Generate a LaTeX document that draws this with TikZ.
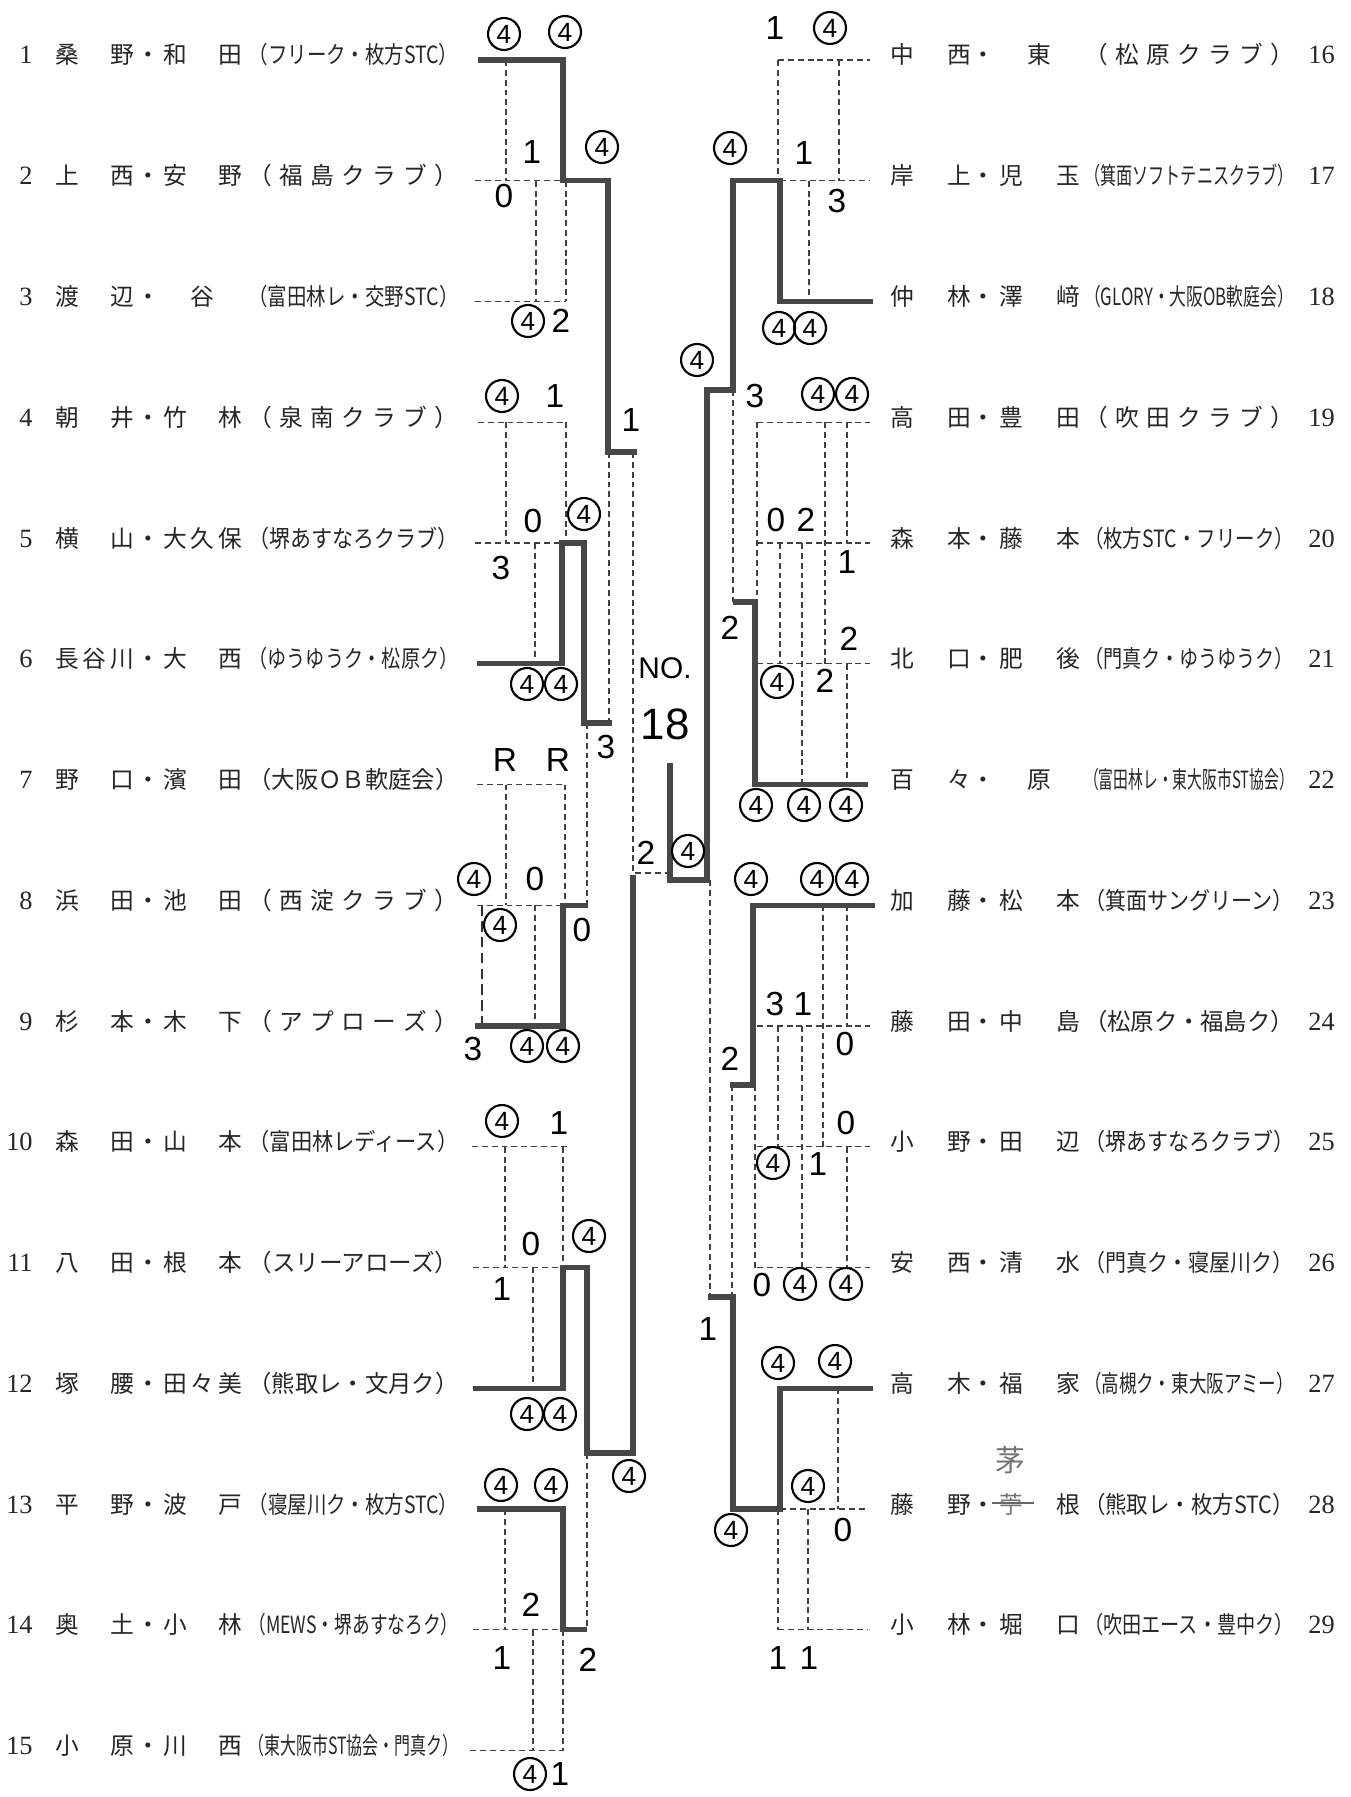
\documentclass[tikz,border=0pt]{standalone}
\usepackage{fontspec}
\usepackage{graphicx}
\newfontfamily\jp{Noto Sans CJK JP}
\newfontfamily\hand{Liberation Sans}
\newfontfamily\numf{Liberation Serif}
\newcommand\fitclub[1]{\resizebox{4.2cm}{\height}{#1}}
\newcommand\spclub[1]{\makebox[4.2cm]{#1}}
\pgfmathdeclarefunction{rowy}{1}{\pgfmathparse{60+(#1-1)*120.75}}
\newcommand\Lrow[4]{%
  \pgfmathsetmacro\rowb{rowy(#1)+4}%
  \node[numL] (num#1) at (33,\rowb) {#1};
  \node[jp] (na#1) at (94.5,\rowb) {\makebox[1.58cm]{#2}};
  \node[jp] (dt#1) at (148,\rowb) {・};
  \node[jp] (nb#1) at (202.5,\rowb) {\makebox[1.58cm]{#3}};
  \node[jp] (cl#1) at (353.5,\rowb) {#4};
}
\newcommand\Rrow[4]{%
  \pgfmathsetmacro\rowb{rowy(#1-15)+4}%
  \node[numR] (num#1) at (1308,\rowb) {#1};
  \node[jp] (na#1) at (930.5,\rowb) {\makebox[1.62cm]{#2}};
  \node[jp] (dt#1) at (983,\rowb) {・};
  \node[jp] (nb#1) at (1039.5,\rowb) {\makebox[1.62cm]{#3}};
  \node[jp] (cl#1) at (1189,\rowb) {#4};
}
\begin{document}
\begin{tikzpicture}[x=0.02cm,y=-0.02cm,
  tk/.style={line width=3pt, draw=black!72},
  ds/.style={line width=0.6pt, draw=black!75, dash pattern=on 3.4pt off 2.2pt},
  bds/.style={line width=1.2pt, draw=black!80, dash pattern=on 6pt off 3pt},
  jp/.style={font=\jp\fontsize{13.5}{16}\selectfont, text=black!85, inner sep=0pt, anchor=base},
  numL/.style={font=\numf\fontsize{15}{16}\selectfont, text=black!85, inner sep=0pt, anchor=base east},
  numR/.style={font=\numf\fontsize{15}{16}\selectfont, text=black!85, inner sep=0pt, anchor=base west},
  sc/.style={font=\hand\fontsize{19}{19}\selectfont, inner sep=0pt},
  c4/.style={circle, draw=black, line width=1.2pt, minimum size=0.64cm, inner sep=0pt, font=\hand\fontsize{15}{15}\selectfont}]
\useasboundingbox (0,0) rectangle (1351,1797);
\fill[white] (0,0) rectangle (1351,1797);

% ---------------- names left
\Lrow{1}{桑\hfill 野}{和\hfill 田}{\fitclub{（フリーク・枚方STC）}}
\Lrow{2}{上\hfill 西}{安\hfill 野}{\spclub{（\hfill 福\hfill 島\hfill ク\hfill ラ\hfill ブ\hfill ）}}
\Lrow{3}{渡\hfill 辺}{谷}{\fitclub{（富田林レ・交野STC）}}
\Lrow{4}{朝\hfill 井}{竹\hfill 林}{\spclub{（\hfill 泉\hfill 南\hfill ク\hfill ラ\hfill ブ\hfill ）}}
\Lrow{5}{横\hfill 山}{大\hfill 久\hfill 保}{\fitclub{（堺あすなろクラブ）}}
\Lrow{6}{長\hfill 谷\hfill 川}{大\hfill 西}{\fitclub{（ゆうゆうク・松原ク）}}
\Lrow{7}{野\hfill 口}{濱\hfill 田}{\fitclub{（大阪ＯＢ軟庭会）}}
\Lrow{8}{浜\hfill 田}{池\hfill 田}{\spclub{（\hfill 西\hfill 淀\hfill ク\hfill ラ\hfill ブ\hfill ）}}
\Lrow{9}{杉\hfill 本}{木\hfill 下}{\spclub{（\hfill ア\hfill プ\hfill ロ\hfill ー\hfill ズ\hfill ）}}
\Lrow{10}{森\hfill 田}{山\hfill 本}{\fitclub{（富田林レディース）}}
\Lrow{11}{八\hfill 田}{根\hfill 本}{\fitclub{（スリーアローズ）}}
\Lrow{12}{塚\hfill 腰}{田\hfill 々\hfill 美}{\fitclub{（熊取レ・文月ク）}}
\Lrow{13}{平\hfill 野}{波\hfill 戸}{\fitclub{（寝屋川ク・枚方STC）}}
\Lrow{14}{奥\hfill 土}{小\hfill 林}{\fitclub{（MEWS・堺あすなろク）}}
\Lrow{15}{小\hfill 原}{川\hfill 西}{\fitclub{（東大阪市ST協会・門真ク）}}

% ---------------- names right
\Rrow{16}{中\hfill 西}{東}{\spclub{（\hfill 松\hfill 原\hfill ク\hfill ラ\hfill ブ\hfill ）}}
\Rrow{17}{岸\hfill 上}{児\hfill 玉}{\fitclub{（箕面ソフトテニスクラブ）}}
\Rrow{18}{仲\hfill 林}{澤\hfill 﨑}{\fitclub{（GLORY・大阪OB軟庭会）}}
\Rrow{19}{高\hfill 田}{豊\hfill 田}{\spclub{（\hfill 吹\hfill 田\hfill ク\hfill ラ\hfill ブ\hfill ）}}
\Rrow{20}{森\hfill 本}{藤\hfill 本}{\fitclub{（枚方STC・フリーク）}}
\Rrow{21}{北\hfill 口}{肥\hfill 後}{\fitclub{（門真ク・ゆうゆうク）}}
\Rrow{22}{百\hfill 々}{原}{\fitclub{（富田林レ・東大阪市ST協会）}}
\Rrow{23}{加\hfill 藤}{松\hfill 本}{\fitclub{（箕面サングリーン）}}
\Rrow{24}{藤\hfill 田}{中\hfill 島}{\fitclub{（松原ク・福島ク）}}
\Rrow{25}{小\hfill 野}{田\hfill 辺}{\fitclub{（堺あすなろクラブ）}}
\Rrow{26}{安\hfill 西}{清\hfill 水}{\fitclub{（門真ク・寝屋川ク）}}
\Rrow{27}{高\hfill 木}{福\hfill 家}{\fitclub{（高槻ク・東大阪アミー）}}
\Rrow{28}{藤\hfill 野}{\textcolor{black!55}{苧}\hfill 根}{\fitclub{（熊取レ・枚方STC）}}
\Rrow{29}{小\hfill 林}{堀\hfill 口}{\fitclub{（吹田エース・豊中ク）}}
% correction on row 28
\draw[black!60, line width=0.8pt] (992,1503) -- (1034,1503);
\node[jp, anchor=center, font=\jp\fontsize{17}{17}\selectfont, text=black!55] (kaya) at (1010,1460) {茅};

% ---------------- dashed draw lines, left
\draw[ds] (506,{rowy(1)}) -- (506,{rowy(2)});
\draw[ds] (475,{rowy(2)}) -- (563,{rowy(2)});
\draw[ds] (536,{rowy(2)}) -- (536,{rowy(3)});
\draw[ds] (566,{rowy(2)}) -- (566,{rowy(3)});
\draw[ds] (475,{rowy(3)}) -- (566,{rowy(3)});
\draw[ds] (478,{rowy(4)}) -- (566,{rowy(4)});
\draw[ds] (506,{rowy(4)}) -- (506,{rowy(5)});
\draw[ds] (566,{rowy(4)}) -- (566,{rowy(5)});
\draw[ds] (475,{rowy(5)}) -- (562,{rowy(5)});
\draw[ds] (535,{rowy(5)}) -- (535,{rowy(6)});
\draw[ds] (609,452) -- (609,723);
\draw[ds] (587,723) -- (587,{rowy(8)});
\draw[ds] (477,{rowy(7)}) -- (565,{rowy(7)});
\draw[ds] (506,{rowy(7)}) -- (506,{rowy(8)});
\draw[ds] (565,{rowy(7)}) -- (565,{rowy(8)});
\draw[ds] (477,{rowy(8)}) -- (563,{rowy(8)});
\draw[ds] (535,{rowy(8)}) -- (535,{rowy(9)});
\draw[bds] (482,{rowy(8)}) -- (482,{rowy(9)});
\draw[ds] (472,{rowy(10)}) -- (567,{rowy(10)});
\draw[ds] (505,{rowy(10)}) -- (505,{rowy(11)});
\draw[ds] (563,{rowy(10)}) -- (563,{rowy(11)});
\draw[ds] (473,{rowy(11)}) -- (563,{rowy(11)});
\draw[ds] (533,{rowy(11)}) -- (533,{rowy(12)});
\draw[ds] (505,{rowy(13)}) -- (505,{rowy(14)});
\draw[ds] (473,{rowy(14)}) -- (563,{rowy(14)});
\draw[ds] (533,{rowy(14)}) -- (533,{rowy(15)});
\draw[ds] (563,{rowy(14)}) -- (563,{rowy(15)});
\draw[ds] (470,{rowy(15)}) -- (563,{rowy(15)});
\draw[ds] (587,1453) -- (587,{rowy(14)});
\draw[ds] (633,452) -- (633,873) -- (667,873);

% ---------------- dashed draw lines, right
\draw[ds] (778,{rowy(1)}) -- (870,{rowy(1)});
\draw[ds] (778,{rowy(1)}) -- (778,{rowy(2)});
\draw[ds] (839,{rowy(1)}) -- (839,{rowy(2)});
\draw[ds] (780,{rowy(2)}) -- (870,{rowy(2)});
\draw[ds] (809,{rowy(2)}) -- (809,{rowy(3)});
\draw[ds] (733,390) -- (733,602);
\draw[ds] (757,{rowy(4)}) -- (870,{rowy(4)});
\draw[ds] (757,{rowy(5)}) -- (870,{rowy(5)});
\draw[ds] (757,{rowy(6)}) -- (870,{rowy(6)});
\draw[ds] (757,{rowy(4)}) -- (757,602);
\draw[ds] (780,{rowy(5)}) -- (780,{rowy(6)});
\draw[ds] (802,{rowy(5)}) -- (802,{rowy(7)});
\draw[ds] (825,{rowy(4)}) -- (825,{rowy(6)});
\draw[ds] (847,{rowy(4)}) -- (847,{rowy(5)});
\draw[ds] (847,{rowy(6)}) -- (847,{rowy(7)});
\draw[ds] (710,880) -- (710,1297);
\draw[ds] (732,1085) -- (732,1297);
\draw[ds] (757,{rowy(9)}) -- (870,{rowy(9)});
\draw[ds] (757,{rowy(10)}) -- (870,{rowy(10)});
\draw[ds] (757,{rowy(11)}) -- (870,{rowy(11)});
\draw[ds] (755,1085) -- (755,{rowy(11)});
\draw[ds] (778,{rowy(9)}) -- (778,{rowy(10)});
\draw[ds] (802,{rowy(9)}) -- (802,{rowy(11)});
\draw[ds] (823,{rowy(8)}) -- (823,{rowy(10)});
\draw[ds] (847,{rowy(8)}) -- (847,{rowy(9)});
\draw[ds] (847,{rowy(10)}) -- (847,{rowy(11)});
\draw[ds] (780,{rowy(13)}) -- (868,{rowy(13)});
\draw[ds] (838,{rowy(12)}) -- (838,{rowy(13)});
\draw[ds] (778,{rowy(13)}) -- (778,{rowy(14)});
\draw[ds] (808,{rowy(13)}) -- (808,{rowy(14)});
\draw[ds] (778,{rowy(14)}) -- (868,{rowy(14)});

% ---------------- thick winner lines
\draw[tk] (478,{rowy(1)}) -- (563,{rowy(1)}) -- (563,{rowy(2)}) -- (608,{rowy(2)}) -- (608,452) -- (637,452);
\draw[tk] (477,{rowy(6)}) -- (562,{rowy(6)}) -- (562,{rowy(5)}) -- (584,{rowy(5)}) -- (584,723) -- (612,723);
\draw[tk] (475,{rowy(9)}) -- (563,{rowy(9)}) -- (563,{rowy(8)}) -- (588,{rowy(8)});
\draw[tk] (473,{rowy(12)}) -- (563,{rowy(12)}) -- (563,{rowy(11)}) -- (587,{rowy(11)}) -- (587,1453) -- (633,1453) -- (633,875);
\draw[tk] (477,{rowy(13)}) -- (563,{rowy(13)}) -- (563,{rowy(14)}) -- (587,{rowy(14)});
\draw[tk] (670,763) -- (670,880) -- (707,880) -- (707,390) -- (733,390) -- (733,{rowy(2)}) -- (780,{rowy(2)}) -- (780,{rowy(3)}) -- (873,{rowy(3)});
\draw[tk] (868,{rowy(7)}) -- (755,{rowy(7)}) -- (755,602) -- (733,602);
\draw[tk] (875,{rowy(8)}) -- (753,{rowy(8)}) -- (753,1085) -- (730,1085);
\draw[tk] (873,{rowy(12)}) -- (780,{rowy(12)}) -- (780,{rowy(13)}) -- (733,{rowy(13)}) -- (733,1297) -- (708,1297);

% ---------------- circled fours
\foreach \x/\y [count=\i] in {504/34, 565/32, 602/147, 528/321, 502/396, 584/514, 527/684, 561/684, 474/879, 500/925, 527/1046, 563/1046, 502/1121, 589/1236, 527/1414, 560/1414, 501/1485, 551/1485, 629/1476, 530/1774, 688/851,
  830/28, 730/148, 779/328, 810/328, 697/360, 818/394, 852/394, 777/682, 756/805, 804/805, 846/805, 751/879, 817/879, 852/879, 773/1163, 800/1284, 846/1284, 778/1363, 835/1361, 808/1486, 731/1530}
  \node[c4] (f\i) at (\x,\y) {4};

% ---------------- other handwritten scores
\foreach \x/\y/\t [count=\i] in {532/152/1, 504/196/0, 561/321/2, 555/396/1, 533/521/0, 501/568/3, 606/747/3, 505/760/R, 558/760/R, 535/879/0, 582/930/0, 473/1049/3, 559/1123/1, 531/1244/0, 502/1289/1, 631/420/1, 531/1605/2, 502/1658/1, 588/1660/2, 560/1774/1, 646/853/2,
  775/28/1, 804/153/1, 837/201/3, 755/396/3, 776/520/0, 806/520/2, 847/562/1, 849/639/2, 825/681/2, 730/628/2, 775/1004/3, 803/1004/1, 845/1044/0, 846/1123/0, 818/1164/1, 762/1285/0, 730/1059/2, 708/1329/1, 843/1530/0, 778/1658/1, 809/1658/1}
  \node[sc] (s\i) at (\x,\y) {\t};

\node[sc, font=\hand\fontsize{17}{17}\selectfont] (no) at (665,668) {NO.};
\node[sc, font=\hand\fontsize{25}{25}\selectfont] (n18) at (665,724) {18};
\end{tikzpicture}
\end{document}
